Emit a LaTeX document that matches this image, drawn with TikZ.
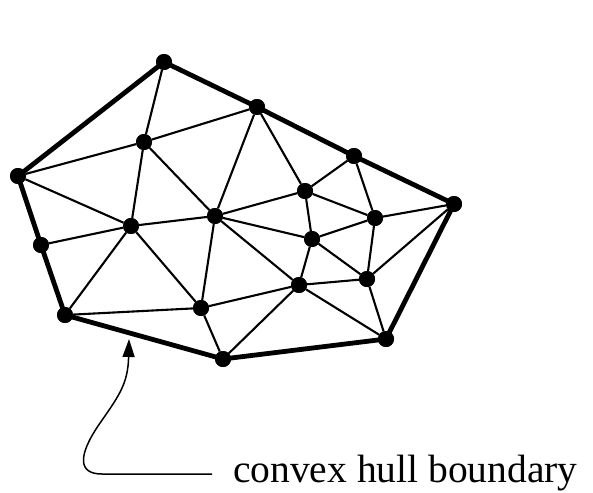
\documentclass[tikz,border=0pt]{standalone}
\usepackage{fontspec}
\setmainfont{Liberation Serif}
\usetikzlibrary{arrows.meta}
\begin{document}
\begin{tikzpicture}[x=1pt,y=-1pt,
  vtx/.style={circle,fill=black,inner sep=0pt,minimum size=16pt},
  hull/.style={line width=4.8pt,line join=round},
  tri/.style={line width=2.1pt},
  pointer/.style={line width=1.5pt,-{Triangle[length=18pt,width=12pt]}}]
\useasboundingbox (0,0) rectangle (593,492);
% hull vertices
\node[vtx] (A) at (164,62) {};
\node[vtx] (B) at (257,107) {};
\node[vtx] (C) at (354,156) {};
\node[vtx] (D) at (454,204) {};
\node[vtx] (E) at (386,339) {};
\node[vtx] (F) at (223,359) {};
\node[vtx] (G) at (65,315) {};
\node[vtx] (H) at (41,245) {};
\node[vtx] (I) at (18,176) {};
% interior vertices
\node[vtx] (J) at (144,142) {};
\node[vtx] (K) at (131,226) {};
\node[vtx] (L) at (215,216) {};
\node[vtx] (M) at (305,191) {};
\node[vtx] (N) at (375,218) {};
\node[vtx] (O) at (312,239) {};
\node[vtx] (P) at (367,279) {};
\node[vtx] (Q) at (299,285) {};
\node[vtx] (R) at (201,308) {};
% triangulation edges
\foreach \a/\b in {A/J,I/J,B/J,J/K,J/L,B/L,B/M,I/K,K/L,H/K,K/G,K/R,G/R,R/F,R/L,R/Q,
  Q/F,Q/L,Q/P,Q/E,P/E,P/N,P/D,Q/O,O/P,L/O,O/N,O/M,M/L,M/N,C/M,C/N,N/D}
  \draw[tri] (\a) -- (\b);
% convex hull
\draw[hull] (A.center) -- (B.center) -- (C.center) -- (D.center) -- (E.center) -- (F.center)
  -- (G.center) -- (H.center) -- (I.center) -- cycle;
% redraw vertices on top
\foreach \v in {A,B,C,D,E,F,G,H,I,J,K,L,M,N,O,P,Q,R}
  \fill (\v) circle (8pt);
% label and pointer
\node[anchor=base west,inner sep=0pt,font=\fontsize{39.5}{42}\selectfont] (lbl) at (233,482) {convex hull boundary};
\coordinate (c0) at (212,474);
\coordinate (tip) at (129,339);
\draw[pointer] (c0) -- (102,474) .. controls (78,474) and (78,456) .. (98,426)
  .. controls (118,397) and (128,385) .. (tip);
\end{tikzpicture}
\end{document}
